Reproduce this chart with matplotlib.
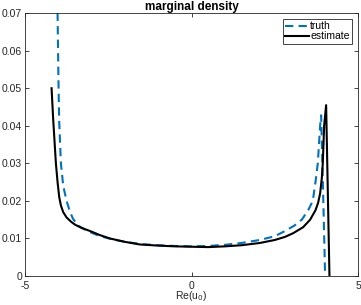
import numpy as np
import matplotlib.pyplot as plt

plt.rcParams['font.family'] = ['Liberation Sans', 'DejaVu Sans']

# truth density (dashed)
x_truth = [-4.03, -4.02, -3.99, -3.97, -3.92, -3.85, -3.75, -3.65, -3.56, -3.4, -3.1, -2.8,
           -2.4, -2.0, -1.5, -1.0, -0.5, 0.0, 0.5, 1.0, 1.5, 2.05, 2.5, 2.81, 3.1, 3.31,
           3.5, 3.64, 3.72, 3.79, 3.86, 3.89, 3.95, 4.01]
y_truth = [0.08, 0.07, 0.05, 0.041, 0.03, 0.024, 0.02, 0.0172, 0.0153, 0.0134, 0.0119, 0.0108,
           0.0098, 0.0091, 0.0085, 0.0082, 0.0080, 0.0079, 0.0080, 0.0083, 0.0088, 0.0096, 0.0106,
           0.012, 0.0135, 0.015, 0.0175, 0.02, 0.025, 0.03, 0.04, 0.0428, 0.022, 0.0]

# estimated density (solid)
x_est = [-4.2, -4.15, -4.07, -4.02, -3.97, -3.92, -3.85, -3.75, -3.62, -3.5, -3.3, -3.05,
         -2.75, -2.45, -2.0, -1.55, -1.0, -0.5, 0.0, 0.5, 1.0, 1.5, 2.05, 2.5, 2.8, 3.05,
         3.35, 3.56, 3.72, 3.8, 3.86, 3.91, 3.94, 3.98, 4.04, 4.14]
y_est = [0.05, 0.0415, 0.03, 0.025, 0.021, 0.0188, 0.0170, 0.0156, 0.0145, 0.0137, 0.0128, 0.012,
         0.0109, 0.0100, 0.0091, 0.0084, 0.0081, 0.0079, 0.0078, 0.0077, 0.0079, 0.0082, 0.0088,
         0.0096, 0.0104, 0.0114, 0.013, 0.015, 0.0175, 0.0195, 0.022, 0.026, 0.03, 0.04, 0.0455, 0.0]

fig = plt.figure(figsize=(3.61, 3.05), dpi=100)
ax = fig.add_axes([0.069, 0.095, 0.923, 0.862])

ax.plot(x_truth, y_truth, '--', color='#0072BD', lw=1.5, dashes=(4, 2.5), label='truth')
ax.plot(x_est, y_est, '-', color='black', lw=1.5, label='estimate')

ax.set_xlim(-5, 5)
ax.set_ylim(0, 0.07)
ax.set_xticks([-5, 0, 5])
ax.set_xticklabels(['-5', '0', '5'])
ax.set_yticks(np.arange(0, 0.071, 0.01))
ax.set_yticklabels(['0', '0.01', '0.02', '0.03', '0.04', '0.05', '0.06', '0.07'])
ax.tick_params(direction='in', top=True, right=True, labelsize=7.5, length=3, width=0.6,
               pad=2, colors='#262626')
ax.tick_params(axis='x', pad=3.5)
for s in ax.spines.values():
    s.set_linewidth(0.6)
    s.set_color('#262626')

ax.set_xlabel('Re(u$_0$)', fontsize=7.5, labelpad=-1, color='#262626')
ax.set_title('marginal density', fontsize=8.5, fontweight='bold', pad=2)

leg = ax.legend(loc='upper right', fontsize=7.5, handlelength=2.3, handletextpad=0.1,
                borderpad=0.2, labelspacing=0.0, fancybox=False, framealpha=1,
                borderaxespad=0.6)
leg.get_frame().set_edgecolor('#262626')
leg.get_frame().set_linewidth(0.6)

fig.savefig('out.png', dpi=100)
